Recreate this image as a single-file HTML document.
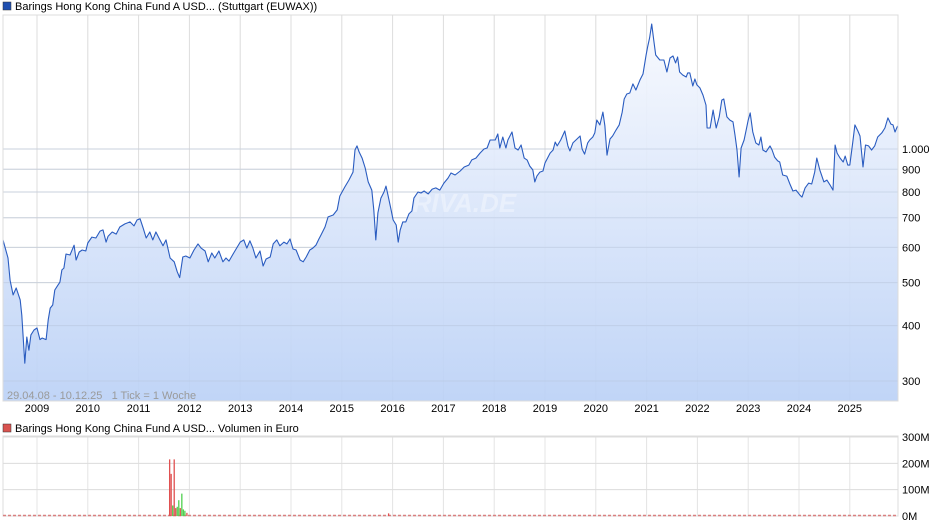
<!DOCTYPE html>
<html><head><meta charset="utf-8">
<style>
body{margin:0;background:#fff;font-family:"Liberation Sans",sans-serif;}
svg{display:block}
text{font-family:"Liberation Sans",sans-serif;white-space:pre;}
</style></head>
<body>
<svg id="c" width="940" height="526"></svg>
<script>
const years=[2008.33,2008.43,2008.47,2008.53,2008.59,2008.67,2008.70,2008.76,2008.80,2008.84,2008.88,2008.94,2009.00,2009.06,2009.10,2009.18,2009.22,2009.26,2009.31,2009.35,2009.41,2009.45,2009.49,2009.53,2009.57,2009.65,2009.73,2009.77,2009.83,2009.89,2009.96,2010.00,2010.08,2010.16,2010.24,2010.30,2010.36,2010.40,2010.48,2010.56,2010.63,2010.73,2010.83,2010.91,2010.97,2011.03,2011.09,2011.15,2011.22,2011.28,2011.34,2011.42,2011.48,2011.54,2011.62,2011.70,2011.76,2011.81,2011.87,2011.93,2012.01,2012.09,2012.17,2012.23,2012.31,2012.37,2012.44,2012.50,2012.58,2012.66,2012.72,2012.78,2012.86,2012.94,2013.00,2013.07,2013.13,2013.19,2013.25,2013.31,2013.39,2013.45,2013.51,2013.59,2013.65,2013.72,2013.78,2013.86,2013.92,2013.98,2014.04,2014.10,2014.18,2014.24,2014.30,2014.37,2014.43,2014.49,2014.55,2014.59,2014.67,2014.73,2014.83,2014.91,2014.96,2015.06,2015.14,2015.22,2015.26,2015.30,2015.34,2015.40,2015.46,2015.52,2015.59,2015.63,2015.67,2015.71,2015.77,2015.83,2015.87,2015.91,2015.97,2016.01,2016.07,2016.11,2016.15,2016.20,2016.26,2016.32,2016.38,2016.42,2016.50,2016.56,2016.62,2016.70,2016.78,2016.85,2016.93,2017.01,2017.09,2017.15,2017.23,2017.33,2017.41,2017.50,2017.56,2017.64,2017.72,2017.80,2017.86,2017.92,2018.02,2018.07,2018.11,2018.17,2018.23,2018.27,2018.35,2018.41,2018.47,2018.53,2018.59,2018.65,2018.70,2018.76,2018.80,2018.84,2018.90,2018.96,2019.00,2019.10,2019.16,2019.20,2019.24,2019.31,2019.39,2019.45,2019.49,2019.55,2019.63,2019.69,2019.73,2019.78,2019.84,2019.88,2019.94,2019.98,2020.02,2020.08,2020.14,2020.18,2020.22,2020.28,2020.33,2020.40,2020.46,2020.52,2020.56,2020.61,2020.67,2020.73,2020.79,2020.87,2020.93,2020.99,2021.02,2021.06,2021.10,2021.14,2021.18,2021.26,2021.34,2021.40,2021.46,2021.52,2021.57,2021.61,2021.65,2021.71,2021.78,2021.81,2021.85,2021.91,2021.95,2021.99,2022.05,2022.11,2022.17,2022.19,2022.25,2022.31,2022.37,2022.43,2022.48,2022.52,2022.58,2022.64,2022.70,2022.74,2022.78,2022.82,2022.86,2022.92,2022.96,2023.00,2023.04,2023.09,2023.15,2023.21,2023.25,2023.29,2023.35,2023.43,2023.47,2023.52,2023.58,2023.62,2023.68,2023.76,2023.82,2023.88,2023.94,2024.02,2024.06,2024.12,2024.19,2024.25,2024.31,2024.35,2024.41,2024.49,2024.55,2024.61,2024.67,2024.71,2024.75,2024.81,2024.87,2024.91,2024.96,2025.00,2025.06,2025.10,2025.16,2025.20,2025.26,2025.31,2025.37,2025.43,2025.49,2025.55,2025.63,2025.69,2025.75,2025.81,2025.85,2025.89,2025.94];
const prices=[624,568,506,469,486,457,422,329,377,352,381,391,395,372,375,372,412,438,445,481,493,501,534,539,580,577,607,562,586,592,589,614,633,630,653,657,617,636,650,643,667,678,685,671,692,696,663,630,650,624,650,624,605,624,568,557,529,513,571,574,568,592,611,598,589,557,583,568,589,557,568,559,580,601,617,624,598,621,598,568,589,545,565,571,611,624,605,617,611,627,595,592,562,557,571,592,598,607,627,640,667,703,710,729,783,821,851,887,995,1016,985,954,906,843,808,729,624,718,775,800,825,787,729,692,674,617,657,685,685,714,725,775,800,796,804,792,812,817,808,838,860,883,874,892,911,920,945,954,979,1000,1005,1048,1048,1081,1005,1064,1005,1048,1092,1005,995,1021,954,944,915,897,843,869,887,892,930,979,995,1037,1016,1048,1098,1016,990,1032,1053,1070,1000,974,1032,1048,1064,1087,1162,1133,1211,1127,969,1053,1070,1104,1133,1211,1296,1330,1337,1402,1358,1431,1476,1629,1698,1780,1913,1762,1629,1587,1587,1491,1604,1620,1563,1612,1491,1468,1453,1484,1484,1387,1438,1395,1373,1323,1256,1115,1115,1224,1115,1181,1289,1296,1181,1162,1151,1075,995,865,1005,1048,1104,1162,1206,1092,1032,1021,1064,995,985,1016,995,959,940,935,874,869,834,804,808,787,779,817,838,834,887,954,897,843,851,830,808,1021,979,954,935,964,920,920,1037,1133,1098,1070,911,1021,1016,995,1016,1064,1087,1115,1175,1138,1133,1092,1127];
const yTicks=[300,400,500,600,700,800,900,1000];
const yTickLabels=["300","400","500","600","700","800","900","1.000"];
const xTicks=[2009,2010,2011,2012,2013,2014,2015,2016,2017,2018,2019,2020,2021,2022,2023,2024,2025];
const volYears=[2011.61,2011.64,2011.67,2011.70,2011.73,2011.76,2011.79,2011.82,2011.85,2011.88,2011.91,2011.95,2015.92];
const volValues=[215,160,40,215,30,35,60,30,85,25,20,12,10];
const volColors=["r","r","g","r","r","g","g","r","g","g","g","r","r"];
const volTicks=[0,100,200,300];

const NS="http://www.w3.org/2000/svg";
const svg=document.getElementById('c');
function mk(t,a,p){const e=document.createElementNS(NS,t);for(const k in a)e.setAttribute(k,a[k]);(p||svg).appendChild(e);return e;}
const X0=3,X1=898,PT=15,PB=401;
function xs(y){return 37+(y-2009)*50.8;}
function ys(v){return 149-443.7*Math.log10(v/1000);}

const defs=mk('defs',{});
const g=mk('linearGradient',{id:'gr',x1:0,y1:0,x2:0,y2:1},defs);
mk('stop',{offset:'0','stop-color':'#f7f9fe'},g);
mk('stop',{offset:'1','stop-color':'#bbd1f6'},g);
const cp=mk('clipPath',{id:'cp'},defs);
mk('rect',{x:X0,y:PT,width:X1-X0,height:PB-PT},cp);

let lg=mk('rect',{x:3,y:2,width:8,height:8,fill:'#1f4fb0',stroke:'#333','stroke-width':0.5});


let lt=mk('text',{x:15,y:10,'font-size':11,fill:'#000'});lt.textContent='Barings Hong Kong China Fund A USD... (Stuttgart (EUWAX))';



xTicks.forEach(t=>{const x=xs(t);
 const l=mk('line',{x1:x,x2:x,y1:PT,y2:PB,stroke:'#dcdcdc','stroke-width':1});
 
 
 const tx=mk('text',{x:x,y:412,'font-size':11,'text-anchor':'middle',fill:'#000'});tx.textContent=t;
 
 
});
yTicks.forEach((t,i)=>{const y=ys(t);
 const l=mk('line',{x1:X0,x2:X1,y1:y,y2:y,stroke:'#dcdcdc','stroke-width':1});
 
 
 const tx=mk('text',{x:902,y:y+4,'font-size':11,fill:'#000'});tx.textContent=yTickLabels[i];
 
 
});
let d='';years.forEach((y,i)=>{d+=(i?'L':'M')+xs(y).toFixed(1)+','+ys(prices[i]).toFixed(1);});
const area=mk('path',{d:d+'L'+xs(years[years.length-1]).toFixed(1)+','+PB+'L'+xs(years[0]).toFixed(1)+','+PB+'Z',fill:'url(#gr)','fill-opacity':0.92,'clip-path':'url(#cp)'});


yTicks.forEach(t=>{const y=ys(t);const l=mk('line',{x1:X0,x2:X1,y1:y,y2:y,stroke:'#b8c6dc','stroke-width':1,'stroke-opacity':0.5,'clip-path':'url(#cp)'});
 
 });
const wm=mk('text',{x:455,y:212,'font-size':26,'font-style':'italic','font-weight':'bold','text-anchor':'middle',fill:'#ffffff','fill-opacity':0.35});wm.textContent='ARIVA.DE';


const line=mk('path',{d:d,fill:'none',stroke:'#2a5cc0','stroke-width':1.1,'stroke-linejoin':'round'});


const fr=mk('rect',{x:X0,y:PT,width:X1-X0,height:PB-PT,fill:'none',stroke:'#dcdcdc'});


const rng=mk('text',{x:7,y:399,'font-size':11,fill:'#9a9a9a'});rng.textContent='29.04.08 - 10.12.25   1 Tick = 1 Woche';



const VT=437,VB=516;
function vy(v){return VB-(v/300)*(VB-VT);}
const vl=mk('rect',{x:3,y:424,width:8,height:8,fill:'#d9534f',stroke:'#333','stroke-width':0.5});


const vt=mk('text',{x:15,y:432,'font-size':11,fill:'#000'});vt.textContent='Barings Hong Kong China Fund A USD... Volumen in Euro';


const vf=mk('rect',{x:X0,y:VT-1,width:X1-X0,height:VB-VT+1,fill:'none',stroke:'#dcdcdc'});


xTicks.forEach(t=>{const l=mk('line',{x1:xs(t),x2:xs(t),y1:VT,y2:VB,stroke:'#e4e4e4'});
 
 });
volTicks.forEach(t=>{const y=vy(t);
 const l=mk('line',{x1:X0,x2:X1,y1:y,y2:y,stroke:'#dcdcdc'});
 
 
 const tx=mk('text',{x:902,y:y+4,'font-size':11,fill:'#000'});tx.textContent=t+'M';
 
 
});
const base=mk('line',{x1:X0,x2:X1,y1:VB-0.5,y2:VB-0.5,stroke:'#d98080','stroke-width':1.5,'stroke-dasharray':'3,2'});


volYears.forEach((y,i)=>{const x=xs(y);const yy=vy(volValues[i]);
 const b=mk('rect',{x:x-0.6,y:yy,width:1.3,height:VB-yy,fill:volColors[i]=='r'?'#e05050':'#50d050'});
 
 
});
</script>
</body></html>
